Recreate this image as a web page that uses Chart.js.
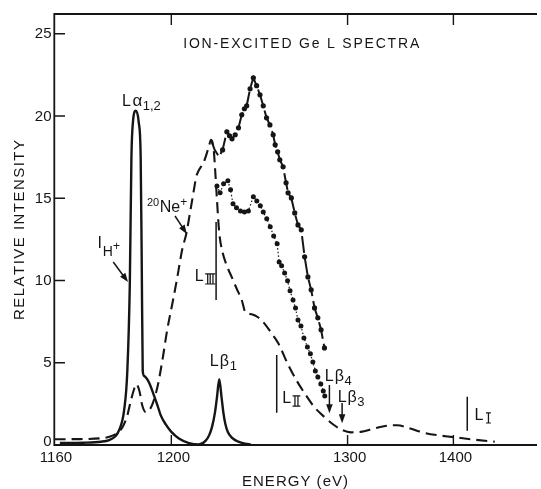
<!DOCTYPE html>
<html><head><meta charset="utf-8">
<script src="https://cdn.jsdelivr.net/npm/chart.js@4.4.1/dist/chart.umd.min.js"></script>
<style>html,body{margin:0;padding:0;background:#fff;}#wrap{width:541px;height:489px;}</style>
</head><body><div id="wrap"><canvas id="c" width="541" height="489"></canvas></div>
<script>
// ---------- axis definitions ----------
const X_TICKS = [1160, 1200, 1300, 1400];
const Y_TICKS = [0, 5, 10, 15, 20, 25];
// the energy axis of the original figure is non-uniform (spectrometer scale)
const AXIS_ENERGY_KNOTS = [1160, 1200, 1300, 1400, 1479];
const AXIS_FRACTION_KNOTS = [0, 0.2429, 0.6078, 0.8269, 1];

// ---------- data (energy in eV, relative intensity) ----------
// proton (H+) excited spectrum: L alpha 1,2 and L beta 1 (solid)
const H_ENERGY = [1162, 1170, 1176, 1178.8, 1181, 1182.2, 1183.9, 1185.0, 1185.85, 1186.4, 1186.9, 1187.9, 1188.9, 1189.55, 1189.9, 1190.25, 1190.7, 1192.4, 1194.1, 1195.3, 1196.4, 1198.1, 1200, 1204.3, 1210, 1215.6, 1219.4, 1221.5, 1223.1, 1224.8, 1225.9, 1227.2, 1228.5, 1229.5, 1230.6, 1232, 1234.3, 1238, 1242, 1245];
const H_INTENSITY = [0.12, 0.14, 0.2, 0.3, 0.55, 0.9, 2.1, 4.5, 9.8, 17.5, 19.6, 20.32, 19.6, 17.5, 11.4, 4.5, 4.2, 3.8, 3.0, 2.4, 1.8, 1.25, 0.8, 0.4, 0.12, 0.03, 0.25, 0.6, 1.1, 2.0, 2.9, 4.0, 2.9, 2.0, 1.3, 0.8, 0.45, 0.2, 0.08, 0.04];

// 20Ne+ excited spectrum (dashed)
const NE_ENERGY = [1160.2, 1168.7, 1175.5, 1178.9, 1181.3, 1183.4, 1185, 1186.2, 1187.4, 1188.0, 1189.1, 1190.1, 1191.3, 1192.4, 1193.6, 1195.3, 1197.0, 1198.6, 1200.6, 1203.4, 1206.2, 1208.4, 1210.9, 1212.8, 1214.1, 1215.6, 1218.4, 1221.2, 1222.5, 1224.0, 1225.0, 1225.9, 1227.2, 1229.1, 1231.5, 1234.3, 1237.1, 1240.0, 1241.9, 1245.6, 1249.4, 1253.1, 1256.8, 1260.6, 1266.2, 1270.9, 1275.6, 1281.2, 1286.9, 1292.5, 1297.2, 1303.1, 1312.5, 1325.0, 1337.5, 1346.9, 1359.3, 1371.9, 1384.4, 1400, 1418.8, 1439.1];
const NE_INTENSITY = [0.35, 0.36, 0.4, 0.5, 0.7, 1.1, 1.8, 2.7, 3.45, 3.7, 3.3, 2.4, 2.0, 2.1, 2.5, 3.55, 5.2, 7.0, 8.6, 10.2, 11.9, 12.8, 14.3, 15.5, 16.3, 16.7, 17.2, 18.1, 18.55, 18.0, 16.5, 14.9, 12.9, 11.7, 10.9, 10.2, 9.5, 8.8, 8.1, 7.95, 7.75, 7.35, 6.8, 6.2, 4.9, 3.95, 3.15, 2.3, 1.7, 1.2, 0.9, 0.77, 0.8, 1.0, 1.17, 1.2, 1.0, 0.75, 0.6, 0.48, 0.33, 0.2];

// upper measured points (long dashes with dots)
const UPPER_ENERGY = [1222.51, 1224.59, 1227.12, 1229.09, 1231.51, 1233.03, 1234.44, 1236.24, 1238.10, 1239.96, 1241.47, 1242.77, 1244.68, 1246.54, 1248.40, 1250.31, 1252.17, 1254.02, 1255.94, 1257.79, 1258.92, 1260.33, 1261.56, 1263.42, 1265.11, 1266.24, 1268.09, 1270.01, 1271.86, 1273.72, 1275.63, 1277.49, 1279.35, 1281.26, 1283.12, 1284.97, 1286.89];
const UPPER_INTENSITY = [18.55, 17.94, 17.52, 17.94, 19.04, 18.80, 18.61, 18.86, 19.28, 20.07, 20.44, 20.62, 21.65, 22.32, 21.84, 21.29, 20.62, 19.89, 19.46, 18.86, 18.25, 17.82, 17.34, 16.91, 15.94, 15.33, 15.02, 14.11, 13.38, 13.08, 11.44, 10.22, 9.43, 8.33, 7.73, 7.00, 5.90];

// lower measured points (dotted with dots)
const LOWER_ENERGY = [1225.89, 1227.69, 1229.66, 1232.08, 1233.60, 1235.00, 1236.97, 1239.22, 1241.47, 1243.72, 1246.54, 1248.51, 1250.48, 1252.17, 1254.14, 1256.11, 1258.07, 1260.04, 1261.17, 1262.58, 1264.27, 1265.95, 1267.36, 1269.05, 1270.46, 1271.86, 1273.55, 1275.24, 1277.21, 1278.90, 1280.30, 1281.71, 1283.12, 1284.81, 1286.21, 1287.06];
const LOWER_INTENSITY = [15.75, 15.33, 15.88, 16.06, 15.51, 14.66, 14.42, 14.23, 14.17, 14.23, 15.09, 14.84, 14.54, 14.17, 13.75, 13.26, 12.71, 12.23, 11.13, 10.89, 10.46, 9.98, 9.37, 8.82, 8.33, 7.60, 7.24, 6.51, 5.96, 5.54, 5.05, 4.50, 4.14, 3.71, 3.28, 2.98];

// ---------- non-uniform energy scale ----------
function warp(e) {
  const K = AXIS_ENERGY_KNOTS, F = AXIS_FRACTION_KNOTS;
  let i = K.length - 2;
  for (let j = 0; j < K.length - 1; j++) { if (e <= K[j + 1]) { i = j; break; } }
  return F[i] + (e - K[i]) * (F[i + 1] - F[i]) / (K[i + 1] - K[i]);
}
function unwarp(f) {
  const K = AXIS_ENERGY_KNOTS, F = AXIS_FRACTION_KNOTS;
  let i = F.length - 2;
  for (let j = 0; j < F.length - 1; j++) { if (f <= F[j + 1]) { i = j; break; } }
  return K[i] + (f - F[i]) * (K[i + 1] - K[i]) / (F[i + 1] - F[i]);
}
class WarpScale extends Chart.LinearScale {
  getPixelForValue(v) {
    if (v === null || v === undefined || isNaN(v)) return NaN;
    return this.getPixelForDecimal(warp(v));
  }
  getValueForPixel(p) { return unwarp(this.getDecimalForPixel(p)); }
}
WarpScale.id = 'warp';
WarpScale.defaults = Chart.LinearScale.defaults;
Chart.register(WarpScale);

const pts = (xs, ys) => xs.map((x, i) => ({ x: x, y: ys[i] }));
const INK = '#151515';
const SANS = '"Liberation Sans", Arial, sans-serif';

function spacedText(ctx, text, x, y, spacing) {
  let cx = x;
  for (const ch of text) { ctx.fillText(ch, cx, y); cx += ctx.measureText(ch).width + spacing; }
  return cx - spacing;
}
function spacedWidth(ctx, text, spacing) {
  let w = 0; for (const ch of text) w += ctx.measureText(ch).width + spacing; return w - spacing;
}
function fitText(ctx, text, x, y, width) {
  const nat = spacedWidth(ctx, text, 0);
  const sp = (width - nat) / (text.length - 1);
  spacedText(ctx, text, x, y, sp);
}
function rich(ctx, x, y, parts) {
  let cx = x;
  for (const p of parts) {
    ctx.font = (p.bold ? 'bold ' : '') + p.size + 'px ' + (p.family || SANS);
    cx += (p.gap || 0);
    if (p.roman) {
      const end = spacedText(ctx, p.t, cx, y + (p.dy || 0), p.sp || -1);
      const top = y + (p.dy || 0) - p.size * 0.72;
      const bot = y + (p.dy || 0);
      ctx.lineWidth = 1.2;
      ctx.beginPath();
      ctx.moveTo(cx - 0.5, top); ctx.lineTo(end + 0.5, top);
      ctx.moveTo(cx - 0.5, bot); ctx.lineTo(end + 0.5, bot);
      ctx.stroke();
      cx = end + 1;
    } else {
      ctx.fillText(p.t, cx, y + (p.dy || 0));
      cx += ctx.measureText(p.t).width;
    }
  }
}
function arrow(ctx, x1, y1, x2, y2) {
  const a = Math.atan2(y2 - y1, x2 - x1), L = 9, W = 3.3;
  ctx.lineWidth = 1.5;
  ctx.beginPath(); ctx.moveTo(x1, y1);
  ctx.lineTo(x2 - Math.cos(a) * L * 0.8, y2 - Math.sin(a) * L * 0.8); ctx.stroke();
  ctx.beginPath(); ctx.moveTo(x2, y2);
  ctx.lineTo(x2 - Math.cos(a) * L - Math.sin(a) * W, y2 - Math.sin(a) * L + Math.cos(a) * W);
  ctx.lineTo(x2 - Math.cos(a) * L + Math.sin(a) * W, y2 - Math.sin(a) * L - Math.cos(a) * W);
  ctx.closePath(); ctx.fill();
}

const decor = {
  id: 'decor',
  afterDraw(chart) {
    const ctx = chart.ctx, xs = chart.scales.x, ys = chart.scales.y, a = chart.chartArea;
    const X = v => xs.getPixelForValue(v), Y = v => ys.getPixelForValue(v);
    ctx.save();
    ctx.strokeStyle = INK; ctx.fillStyle = INK; ctx.lineCap = 'butt';
    // frame
    ctx.lineWidth = 1.8;
    ctx.beginPath();
    ctx.moveTo(a.right, a.top); ctx.lineTo(a.left + 0.3, a.top); ctx.lineTo(a.left + 0.3, a.bottom); ctx.lineTo(a.right, a.bottom);
    ctx.stroke();
    // ticks
    ctx.lineWidth = 1.4;
    ctx.beginPath();
    for (const t of ys.ticks) { if (t.value === 0) continue; const py = Y(t.value); ctx.moveTo(a.left, py); ctx.lineTo(a.left + 11, py); }
    for (const t of xs.ticks) { if (t.value === 1160) continue; const px = X(t.value); ctx.moveTo(px, a.bottom); ctx.lineTo(px, a.bottom - 10); ctx.moveTo(px, a.top); ctx.lineTo(px, a.top + 11); }
    ctx.stroke();
    // tick labels
    ctx.font = '15px ' + SANS;
    ctx.textAlign = 'right'; ctx.textBaseline = 'middle';
    for (const t of ys.ticks) ctx.fillText(String(t.value), a.left - 2.5, Y(t.value) + (t.value === 0 ? -3.5 : 0.5));
    ctx.textAlign = 'center'; ctx.textBaseline = 'alphabetic';
    for (const t of xs.ticks) ctx.fillText(String(t.value), X(t.value) + 2, a.bottom + 16.5);
    // axis titles
    ctx.textAlign = 'left';
    ctx.font = '15px ' + SANS;
    fitText(ctx, 'ENERGY (eV)', 242, a.bottom + 41, 106);
    ctx.save();
    ctx.translate(23.5, 320); ctx.rotate(-Math.PI / 2);
    fitText(ctx, 'RELATIVE INTENSITY', 0, 0, 180);
    ctx.restore();
    // title
    ctx.font = '14px ' + SANS;
    fitText(ctx, 'ION-EXCITED Ge L SPECTRA', X(1206.75), Y(24.12), 236);
    // peak labels
    rich(ctx, X(1183.2), Y(20.58), [{ t: 'L', size: 16 }, { t: 'α', size: 17, gap: 1.5 }, { t: '1,2', size: 13, dy: 3.5, gap: 0.5 }]);
    rich(ctx, X(1221.8), Y(4.80), [{ t: 'L', size: 16 }, { t: 'β', size: 16, gap: 1 }, { t: '1', size: 13, dy: 4, gap: 1 }]);
    rich(ctx, X(1287.1), Y(3.89), [{ t: 'L', size: 16 }, { t: 'β', size: 16, gap: 1 }, { t: '4', size: 13, dy: 4, gap: 0.5 }]);
    rich(ctx, X(1294.4), Y(2.61), [{ t: 'L', size: 16 }, { t: 'β', size: 16, gap: 1 }, { t: '3', size: 13, dy: 4, gap: 0.5 }]);
    // ion labels
    rich(ctx, X(1191.7), Y(14.18), [{ t: '20', size: 11, dy: -6 }, { t: 'Ne', size: 16, gap: 0.5 }, { t: '+', size: 12, dy: -6 }]);
    rich(ctx, X(1174.8), Y(11.98), [{ t: 'I', size: 16 }, { t: 'H', size: 14, dy: 8, gap: 1 }, { t: '+', size: 12, dy: 2 }]);
    arrow(ctx, X(1202.1), Y(13.92), X(1208.8), Y(12.83));
    arrow(ctx, X(1180.2), Y(11.12), X(1185.25), Y(9.91));
    arrow(ctx, X(1289.7), Y(3.65), X(1289.7), Y(1.93));
    arrow(ctx, X(1296.9), Y(2.55), X(1296.9), Y(1.32));
    // absorption edges
    ctx.lineWidth = 1.5;
    ctx.beginPath();
    ctx.moveTo(X(1225.4), Y(13.56)); ctx.lineTo(X(1225.4), Y(8.81));
    ctx.moveTo(X(1259.8), Y(5.47)); ctx.lineTo(X(1259.8), Y(1.96));
    ctx.moveTo(X(1413.1), Y(2.94)); ctx.lineTo(X(1413.1), Y(0.87));
    ctx.stroke();
    rich(ctx, X(1213.3), Y(9.97), [{ t: 'L', size: 16 }, { t: 'III', size: 14, dy: 3, gap: 2, roman: true, sp: -1.2 }]);
    rich(ctx, X(1262.9), Y(2.55), [{ t: 'L', size: 16 }, { t: 'II', size: 14, dy: 3, gap: 2, roman: true, sp: 0 }]);
    rich(ctx, X(1420.0), Y(1.52), [{ t: 'L', size: 16 }, { t: 'I', size: 14, dy: 3, gap: 3, roman: true, sp: 0 }]);
    ctx.restore();
  }
};

new Chart(document.getElementById('c'), {
  type: 'line',
  data: {
    datasets: [
      { label: 'H+ excited', data: pts(H_ENERGY, H_INTENSITY), borderColor: INK, borderWidth: 2.4, pointRadius: 0, cubicInterpolationMode: 'monotone', fill: false },
      { label: '20Ne+ excited', data: pts(NE_ENERGY, NE_INTENSITY), borderColor: INK, borderWidth: 2.1, borderDash: [11, 6], pointRadius: 0, cubicInterpolationMode: 'monotone', fill: false },
      { label: 'upper points', data: pts(UPPER_ENERGY, UPPER_INTENSITY), borderColor: INK, borderWidth: 2, borderDash: [17, 5], tension: 0, pointRadius: c => (c.dataIndex < 3 ? 0 : 2.6), pointBackgroundColor: INK, pointBorderWidth: 0, fill: false },
      { label: 'lower points', data: pts(LOWER_ENERGY, LOWER_INTENSITY), borderColor: INK, borderWidth: 1.2, borderDash: [1.5, 2.2], tension: 0, pointRadius: 2.5, pointBackgroundColor: INK, pointBorderWidth: 0, fill: false }
    ]
  },
  options: {
    responsive: false, animation: false, events: [],
    layout: { padding: { left: 54, top: 14, right: 0, bottom: 44 } },
    plugins: { legend: { display: false }, tooltip: { enabled: false } },
    scales: {
      x: { type: 'warp', min: 1160, max: 1479, display: false, afterBuildTicks: s => { s.ticks = X_TICKS.map(v => ({ value: v })); } },
      y: { type: 'linear', min: 0, max: 26.2, display: false, afterBuildTicks: s => { s.ticks = Y_TICKS.map(v => ({ value: v })); } }
    }
  },
  plugins: [decor]
});
</script></body></html>
